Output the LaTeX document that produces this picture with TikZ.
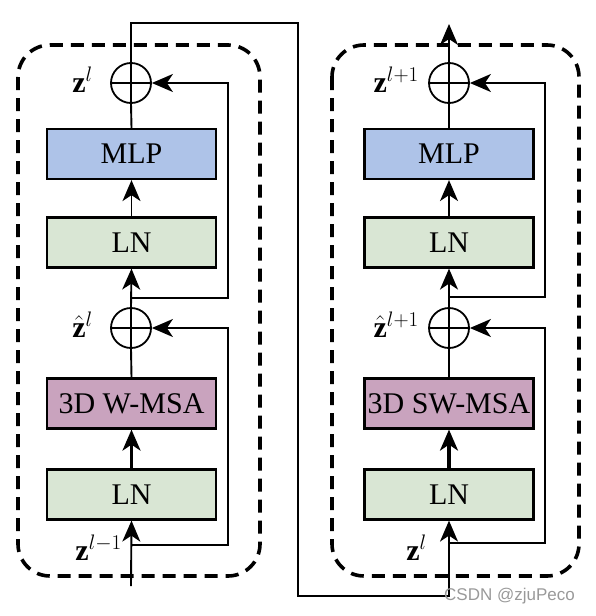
\RequirePackage{fix-cm}
\documentclass[tikz,border=0pt]{standalone}
\usepackage{fontspec}
\setmainfont{Liberation Serif}
\newfontfamily\wmfont{Liberation Sans}
\usetikzlibrary{arrows.meta}
\definecolor{mlpblue}{HTML}{AEC3E8}
\definecolor{lngreen}{HTML}{D9E6D4}
\definecolor{msapink}{HTML}{C9A3BE}
\tikzset{
  blk/.style={draw, line width=2.2pt, minimum width=169pt, minimum height=50pt, inner sep=0pt,
    font=\fontsize{30}{32}\selectfont},
  plusnode/.style={draw, circle, line width=1.8pt, minimum size=40pt, inner sep=0pt,
    path picture={\draw[line width=1.8pt] (path picture bounding box.north) -- (path picture bounding box.south)
      (path picture bounding box.west) -- (path picture bounding box.east);}},
  conn/.style={line width=1.9pt},
  arr/.style={line width=1.9pt, arrows={-Stealth[length=21pt, width=18pt, inset=6pt]}},
  thickarr/.style={line width=3.2pt, arrows={-Stealth[length=21pt, width=18pt, inset=6pt]}},
  dashbox/.style={draw, line width=3.6pt, dash pattern=on 13pt off 8pt, rounded corners=32pt},
  lab/.style={anchor=east, inner sep=0pt, font=\fontsize{30}{32}\selectfont},
}
\begin{document}
\begin{tikzpicture}[x=1pt, y=-1pt]
\useasboundingbox (0,0) rectangle (596,616);
% dashed blocks
\draw[dashbox] (18,45) rectangle (260,576);
\draw[dashbox] (332,45) rectangle (579,576);

% left column
\node[plusnode] (c1) at (131,83) {};
\node[blk, fill=mlpblue] (mlp1) at (131.5,154) {MLP};
\node[blk, fill=lngreen] (ln1) at (131.5,242.5) {LN};
\node[plusnode] (c2) at (131,328) {};
\node[blk, fill=msapink] (msa1) at (131.5,403.5) {3D W-MSA};
\node[blk, fill=lngreen] (ln2) at (131.5,494.5) {LN};
\coordinate (in1) at (131,586);
\coordinate (b1) at (131,545);
\coordinate (b2) at (131,298);

\draw[arr] (in1) -- (ln2.south);
\draw[thickarr] (ln2.north) -- (msa1.south);
\draw[conn] (msa1.north) -- (c2.south);
\draw[arr] (c2.north) -- (ln1.south);
\draw[arr] (ln1.north) -- (mlp1.south);
\draw[conn] (mlp1.north) -- (c1.south);
\draw[arr] (b1) -| (228,328) -- (c2.east);
\draw[arr] (b2) -| (228,83) -- (c1.east);

% right column
\node[plusnode] (c3) at (449,83) {};
\node[blk, fill=mlpblue] (mlp2) at (449,154) {MLP};
\node[blk, fill=lngreen] (ln3) at (449,242.5) {LN};
\node[plusnode] (c4) at (449,328) {};
\node[blk, fill=msapink] (msa2) at (449,403.5) {3D SW-MSA};
\node[blk, fill=lngreen] (ln4) at (449,494.5) {LN};
\coordinate (out) at (449,24);
\coordinate (b3) at (449,543);
\coordinate (b4) at (449,297);

\draw[thickarr] (ln4.north) -- (msa2.south);
\draw[conn] (msa2.north) -- (c4.south);
\draw[arr] (c4.north) -- (ln3.south);
\draw[arr] (ln3.north) -- (mlp2.south);
\draw[conn] (mlp2.north) -- (c3.south);
\draw[arr] (c3.north) -- (out);
\draw[arr] (b3) -| (545,328) -- (c4.east);
\draw[arr] (b4) -| (545,83) -- (c3.east);

% connection between blocks
\draw[arr] (c1.north) -- (131,23) -| (298,596) -| (ln4.south);

% labels
\node[lab] (l1) at (93,80) {$\mathbf{z}^{l}$};
\node[lab] (l2) at (93,325) {$\hat{\mathbf{z}}^{l}$};
\node[lab] (l3) at (122,548) {$\mathbf{z}^{l-1}$};
\node[lab] (l4) at (419,80) {$\mathbf{z}^{l+1}$};
\node[lab] (l5) at (419,325) {$\hat{\mathbf{z}}^{l+1}$};
\node[lab] (l6) at (427,548) {$\mathbf{z}^{l}$};

% watermark
\node[anchor=west, inner sep=0pt, text=black!40, font=\wmfont\fontsize{17}{19}\selectfont] (wm) at (444,596) {CSDN @zjuPeco};
\end{tikzpicture}
\end{document}
